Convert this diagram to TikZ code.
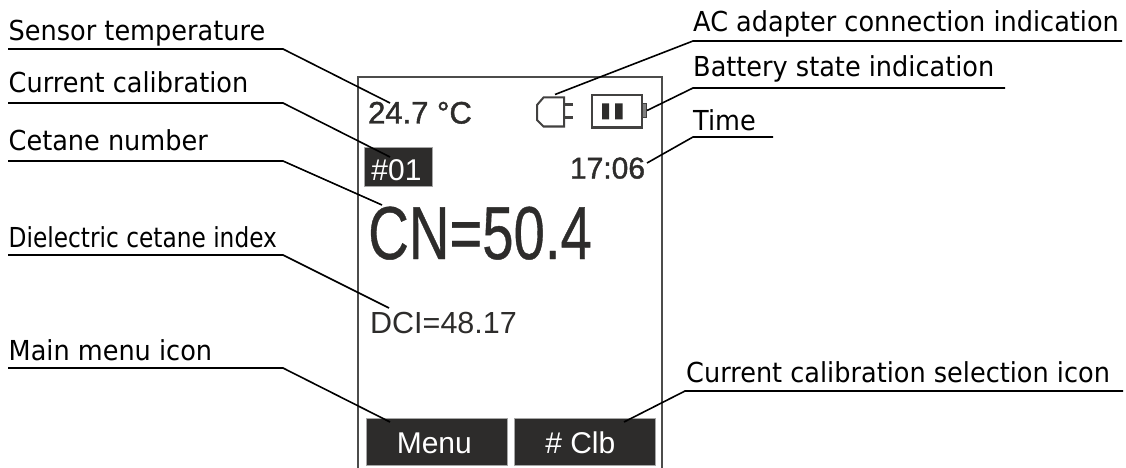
\documentclass[tikz,border=0pt]{standalone}
\usepackage{fontspec}
\setmainfont{Liberation Sans}
\newfontfamily\labelfont[FakeStretch=0.93]{DejaVu Sans}
\newfontfamily\lcdbold[FakeBold=1.4]{Liberation Sans}
\newfontfamily\lcdbig[FakeBold=0.6]{Liberation Sans}
\definecolor{ink}{HTML}{2D2C2B}
\tikzset{
  lab/.style={anchor=base west,inner sep=0pt,font=\labelfont\fontsize{27.5}{30}\selectfont,text=black},
  lead/.style={draw=black,line width=1.6pt},
  screen/.style={draw=ink!85,line width=1.9pt},
  lcd/.style={anchor=base,inner sep=0pt,text=ink},
  inv/.style={fill=ink,draw=gray!70,line width=.6pt},
  btn/.style={inv,anchor=north west,minimum width=141pt,minimum height=47pt,inner sep=0pt,text height=23pt,text depth=0pt,text=white,font=\fontsize{30}{30}\selectfont},
  icon/.style={draw=ink!90,line width=2pt},
}
\begin{document}
\begin{tikzpicture}[x=1pt,y=-1pt]
\useasboundingbox (0,0) rectangle (1126,468);
% display
\draw[screen] (358,468) -- (358,77) -- (662,77) -- (662,468);
\node[lcd,font=\lcdbold\fontsize{31}{31}\selectfont] (temp) at (420,123.5) {24.7 °C};
\path[inv] (364,147) rectangle (432,186);
\node[lcd,text=white,font=\fontsize{30}{30}\selectfont] (clb) at (396.5,180) {\#01};
\node[lcd,font=\lcdbold\fontsize{30}{30}\selectfont] (clock) at (607.5,178.5) {17:06};
\node[lcd,xscale=.75,font=\lcdbig\fontsize{75}{75}\selectfont] (cn) at (480,259) {CN=50.4};
\node[lcd,font=\fontsize{30.5}{31}\selectfont] (dci) at (443.5,333) {DCI=48.17};
% plug
\draw[icon,fill=white] (543.5,97.5) -- (564,97.5) -- (564,126.5) -- (543.5,126.5) -- (537,120) -- (537,105) -- cycle;
\draw[icon,line width=2.6pt] (564,104.5) -- (573,104.5) (564,117.5) -- (573,117.5);
\coordinate (plug) at (555,94.5);
% battery
\draw[icon] (592,95) rectangle (642,127.5);
\draw[icon,fill=gray,line width=1pt] (642,104) rectangle (646,118);
\fill[ink] (602,103.5) rectangle (609,119.5) (615,103.5) rectangle (622.5,119.5);
\coordinate (batt) at (647,110.5);
% buttons
\node[btn] (menu) at (366,418) {\kern-5pt Menu};
\node[btn] (sel) at (514,418) {\kern-9pt\# Clb};
% leader targets
\coordinate (tTemp) at (390,103);
\coordinate (tClb) at (390,157);
\coordinate (tCn) at (382,205);
\coordinate (tDci) at (389,308);
\coordinate (tMenu) at (390,422);
\coordinate (tSel) at (624,422);
\coordinate (tClock) at (647,163);
% leader rails
\coordinate (a1) at (8,49);   \coordinate (k1) at (283,49);
\coordinate (a2) at (8,103);  \coordinate (k2) at (283,103);
\coordinate (a3) at (8,161);  \coordinate (k3) at (283,161);
\coordinate (a4) at (8,255);  \coordinate (k4) at (283,255);
\coordinate (a5) at (8,368);  \coordinate (k5) at (283,368);
\coordinate (b1) at (1122,41);  \coordinate (m1) at (693,41);
\coordinate (b2) at (1005,88);  \coordinate (m2) at (693,88);
\coordinate (b3) at (773,137);  \coordinate (m3) at (693,137);
\coordinate (b4) at (1123,391); \coordinate (m4) at (685,391);
% labels
\node[lab] (l1) at (8.5,41) {Sensor temperature};
\node[lab] (l2) at (8.5,93) {Current calibration};
\node[lab] (l3) at (8.5,150) {Cetane number};
\node[lab,xscale=.91] (l4) at (8.5,247) {Dielectric cetane index};
\node[lab] (l5) at (8.5,360) {Main menu icon};
\node[lab] (r1) at (693,32) {AC adapter connection indication};
\node[lab] (r2) at (693,77) {Battery state indication};
\node[lab] (r3) at (693,131) {Time};
\node[lab] (r4) at (686,382) {Current calibration selection icon};
% leaders
\draw[lead] (a1) -- (k1) -- (tTemp);
\draw[lead] (a2) -- (k2) -- (tClb);
\draw[lead] (a3) -- (k3) -- (tCn);
\draw[lead] (a4) -- (k4) -- (tDci);
\draw[lead] (a5) -- (k5) -- (tMenu);
\draw[lead] (b1) -- (m1) -- (plug);
\draw[lead] (b2) -- (m2) -- (batt);
\draw[lead] (b3) -- (m3) -- (tClock);
\draw[lead] (b4) -- (m4) -- (tSel);
\end{tikzpicture}
\end{document}
